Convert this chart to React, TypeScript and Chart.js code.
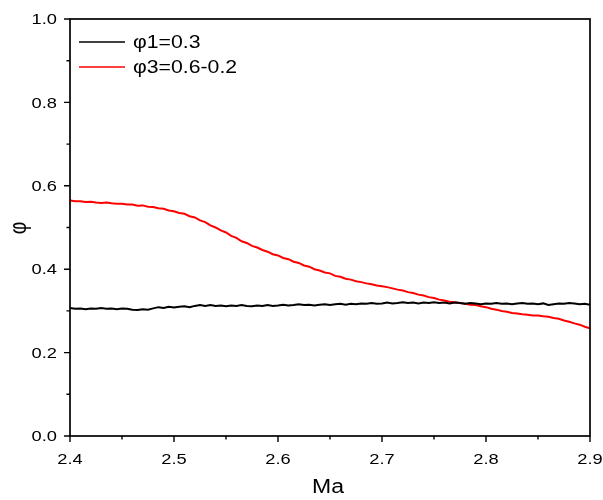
import React, { useEffect, useRef } from "react";
import { Chart, registerables } from "chart.js";

Chart.register(...registerables);

const maValues = [
  2.4, 2.405, 2.41, 2.415, 2.42, 2.425, 2.43, 2.435, 2.44, 2.445,
  2.45, 2.455, 2.46, 2.465, 2.47, 2.475, 2.48, 2.485, 2.49, 2.495,
  2.5, 2.505, 2.51, 2.515, 2.52, 2.525, 2.53, 2.535, 2.54, 2.545,
  2.55, 2.555, 2.56, 2.565, 2.57, 2.575, 2.58, 2.585, 2.59, 2.595,
  2.6, 2.605, 2.61, 2.615, 2.62, 2.625, 2.63, 2.635, 2.64, 2.645,
  2.65, 2.655, 2.66, 2.665, 2.67, 2.675, 2.68, 2.685, 2.69, 2.695,
  2.7, 2.705, 2.71, 2.715, 2.72, 2.725, 2.73, 2.735, 2.74, 2.745,
  2.75, 2.755, 2.76, 2.765, 2.77, 2.775, 2.78, 2.785, 2.79, 2.795,
  2.8, 2.805, 2.81, 2.815, 2.82, 2.825, 2.83, 2.835, 2.84, 2.845,
  2.85, 2.855, 2.86, 2.865, 2.87, 2.875, 2.88, 2.885, 2.89, 2.895,
  2.9,
];

const phi1Values = [
  0.307, 0.305, 0.306, 0.304, 0.306, 0.305, 0.307, 0.305, 0.306, 0.304,
  0.306, 0.305, 0.303, 0.302, 0.304, 0.303, 0.306, 0.309, 0.307, 0.31,
  0.308, 0.31, 0.311, 0.309, 0.312, 0.314, 0.312, 0.314, 0.312, 0.313,
  0.311, 0.313, 0.312, 0.314, 0.312, 0.311, 0.313, 0.312, 0.314, 0.312,
  0.313, 0.315, 0.313, 0.314, 0.316, 0.314, 0.315, 0.313, 0.315, 0.316,
  0.314, 0.316, 0.317, 0.315, 0.317, 0.316, 0.318, 0.317, 0.319, 0.317,
  0.318, 0.32, 0.318, 0.319, 0.321, 0.319, 0.32, 0.318, 0.32, 0.319,
  0.321, 0.319, 0.32, 0.318, 0.32, 0.319, 0.317, 0.319, 0.318, 0.316,
  0.318, 0.317, 0.319, 0.317, 0.318, 0.316, 0.318, 0.319, 0.317, 0.318,
  0.316, 0.318, 0.314, 0.316, 0.318, 0.317, 0.319, 0.318, 0.316, 0.317,
  0.315,
];

const phi3Values = [
  0.565, 0.563, 0.563, 0.561, 0.562, 0.56, 0.559, 0.56, 0.558, 0.557,
  0.557, 0.555, 0.555, 0.552, 0.553, 0.55, 0.549, 0.546, 0.545, 0.541,
  0.539, 0.535, 0.533, 0.527, 0.524, 0.517, 0.513, 0.505, 0.5, 0.493,
  0.488, 0.48, 0.475, 0.467, 0.463, 0.456, 0.452, 0.446, 0.442, 0.436,
  0.433, 0.427, 0.424, 0.418, 0.415, 0.409, 0.406, 0.4, 0.397, 0.392,
  0.39, 0.384, 0.382, 0.377, 0.375, 0.371, 0.369, 0.366, 0.364, 0.361,
  0.359, 0.357, 0.354, 0.351, 0.349, 0.345, 0.343, 0.339, 0.337, 0.333,
  0.331, 0.327, 0.325, 0.322, 0.321, 0.319, 0.317, 0.315, 0.314, 0.311,
  0.309, 0.305, 0.303, 0.3, 0.298, 0.295, 0.294, 0.292, 0.291, 0.289,
  0.289, 0.287, 0.286, 0.283, 0.281, 0.277, 0.274, 0.27, 0.267, 0.262,
  0.258,
];

const seriesLabels = ["φ1=0.3", "φ3=0.6-0.2"];
const seriesColors = ["#000000", "#ff0000"];
const xTickValues = [2.4, 2.5, 2.6, 2.7, 2.8, 2.9];
const xMinorValues = [2.45, 2.55, 2.65, 2.75, 2.85];
const yTickValues = [0.0, 0.2, 0.4, 0.6, 0.8, 1.0];
const yMinorValues = [0.1, 0.3, 0.5, 0.7, 0.9];
const xTitle = "Ma";
const yTitle = "φ";

const FONT = "'Liberation Sans', Arial, sans-serif";
const STRETCH = 1.18;

function stretchedText(ctx: any, text: string, x: number, y: number) {
  ctx.save();
  ctx.translate(x, y);
  ctx.scale(STRETCH, 1);
  ctx.fillText(text, 0, 0);
  ctx.restore();
}

const decorPlugin = {
  id: "decor",
  afterDraw(chart: any) {
    const { ctx, chartArea, scales } = chart;
    const { left, right, top, bottom } = chartArea;
    ctx.save();
    ctx.strokeStyle = "#000";
    ctx.lineWidth = 1.7;
    ctx.strokeRect(left, top, right - left, bottom - top);
    ctx.lineWidth = 1.4;
    ctx.beginPath();
    xTickValues.forEach((v) => {
      const x = scales.x.getPixelForValue(v);
      ctx.moveTo(x, bottom);
      ctx.lineTo(x, bottom + 6);
    });
    xMinorValues.forEach((v) => {
      const x = scales.x.getPixelForValue(v);
      ctx.moveTo(x, bottom);
      ctx.lineTo(x, bottom + 3.5);
    });
    yTickValues.forEach((v) => {
      const y = scales.y.getPixelForValue(v);
      ctx.moveTo(left, y);
      ctx.lineTo(left - 6, y);
    });
    yMinorValues.forEach((v) => {
      const y = scales.y.getPixelForValue(v);
      ctx.moveTo(left, y);
      ctx.lineTo(left - 3.5, y);
    });
    ctx.stroke();

    ctx.fillStyle = "#000";
    // tick labels
    ctx.font = `15.5px ${FONT}`;
    ctx.textBaseline = "middle";
    ctx.textAlign = "center";
    xTickValues.forEach((v) => {
      stretchedText(ctx, v.toFixed(1), scales.x.getPixelForValue(v), bottom + 24);
    });
    ctx.textAlign = "right";
    yTickValues.forEach((v) => {
      stretchedText(ctx, v.toFixed(1), left - 13, scales.y.getPixelForValue(v) + 1);
    });

    // legend
    ctx.font = `18px ${FONT}`;
    ctx.textAlign = "left";
    seriesLabels.forEach((lab, i) => {
      const y = top + 23 + i * 25;
      ctx.strokeStyle = seriesColors[i];
      ctx.lineWidth = 1.5;
      ctx.beginPath();
      ctx.moveTo(left + 9, y);
      ctx.lineTo(left + 55, y);
      ctx.stroke();
      ctx.fillStyle = "#000";
      stretchedText(ctx, lab, left + 63, y + 1);
    });

    // axis titles
    ctx.font = `19.5px ${FONT}`;
    ctx.fillStyle = "#000";
    ctx.textAlign = "center";
    ctx.textBaseline = "middle";
    stretchedText(ctx, xTitle, (left + right) / 2 - 2, 488);
    ctx.save();
    ctx.translate(20, 228);
    ctx.rotate(-Math.PI / 2);
    ctx.scale(1, STRETCH);
    ctx.fillText(yTitle, 0, 0);
    ctx.restore();
    ctx.restore();
  },
};

export default function App() {
  const ref = useRef<HTMLCanvasElement | null>(null);
  useEffect(() => {
    document.body.style.margin = "0";
    const canvas = ref.current;
    if (!canvas) return;
    const chart = new Chart(canvas, {
      type: "line",
      data: {
        datasets: [
          {
            label: seriesLabels[0],
            data: maValues.map((x, i) => ({ x, y: phi1Values[i] })),
            borderColor: seriesColors[0],
            borderWidth: 2,
            pointRadius: 0,
            tension: 0,
          },
          {
            label: seriesLabels[1],
            data: maValues.map((x, i) => ({ x, y: phi3Values[i] })),
            borderColor: seriesColors[1],
            borderWidth: 2,
            pointRadius: 0,
            tension: 0,
          },
        ],
      },
      options: {
        animation: false,
        responsive: false,
        maintainAspectRatio: false,
        layout: { padding: { top: 19, right: 13, left: 0, bottom: 0 } },
        plugins: { legend: { display: false }, tooltip: { enabled: false } },
        scales: {
          x: {
            type: "linear",
            min: 2.4,
            max: 2.9,
            grid: { display: false, drawTicks: false },
            border: { display: false },
            ticks: { display: false, stepSize: 0.1 },
            afterFit: (s: any) => {
              s.height = 64;
            },
          },
          y: {
            type: "linear",
            min: 0,
            max: 1,
            grid: { display: false, drawTicks: false },
            border: { display: false },
            ticks: { display: false, stepSize: 0.2 },
            afterFit: (s: any) => {
              s.width = 70;
            },
          },
        },
      },
      plugins: [decorPlugin],
    });
    return () => chart.destroy();
  }, []);
  return (
    <div style={{ width: 603, height: 500, background: "#fff" }}>
      <canvas ref={ref} width={603} height={500} style={{ display: "block" }} />
    </div>
  );
}
